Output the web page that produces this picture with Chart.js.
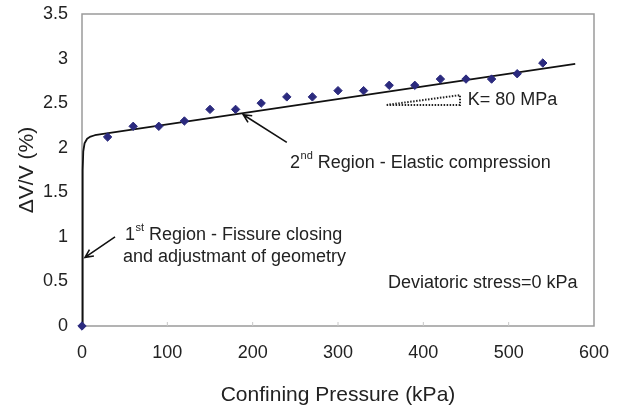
<!DOCTYPE html>
<html>
<head>
<meta charset="utf-8">
<script src="https://cdn.jsdelivr.net/npm/chart.js@4"></script>
<style>
  html, body { margin: 0; padding: 0; background: #fff; }
  #wrap { width: 618px; height: 412px; }
</style>
</head>
<body>
<div id="wrap"><canvas id="chart"></canvas></div>
<script>
// measured points (confining pressure, kPa / volumetric strain, %)
const pressure = [0, 30, 60, 90, 120, 150, 180, 210, 240, 270, 300, 330, 360, 390, 420, 450, 480, 510, 540];
const volStrain = [0, 2.12, 2.24, 2.24, 2.30, 2.43, 2.43, 2.50, 2.57, 2.57, 2.64, 2.64, 2.70, 2.70, 2.77, 2.77, 2.77, 2.83, 2.95];

// fitted curve
const fitX = [0, 0.8, 1.5, 3, 6, 10, 15, 578];
const fitY = [0, 1.75, 1.96, 2.05, 2.1, 2.125, 2.14, 2.94];

// slope triangle for K
const kX = [357, 443, 443, 357];
const kY = [2.48, 2.48, 2.59, 2.48];

const xTicks = [0, 100, 200, 300, 400, 500, 600];
const yTicks = [0, 0.5, 1, 1.5, 2, 2.5, 3, 3.5];

const FONT = "'Liberation Sans', Arial, sans-serif";
const TEXT = "#222";

const toXY = (xs, ys) => xs.map((x, i) => ({ x: x, y: ys[i] }));

const framePlugin = {
  id: "frame",
  beforeDatasetsDraw(chart) {
    const { ctx, chartArea: a } = chart;
    ctx.save();
    ctx.strokeStyle = "#9a9a9a";
    ctx.lineWidth = 1.5;
    ctx.strokeRect(a.left, a.top, a.right - a.left, a.bottom - a.top);
    // small inward tick marks on the x axis
    ctx.lineWidth = 1;
    ctx.strokeStyle = "#c8c8c8";
    const xs = chart.scales.x;
    xTicks.slice(1, -1).forEach((t) => {
      const px = xs.getPixelForValue(t);
      ctx.beginPath();
      ctx.moveTo(px, a.bottom);
      ctx.lineTo(px, a.bottom - 4);
      ctx.stroke();
    });
    ctx.restore();
  },
};

function arrow(ctx, x1, y1, x2, y2) {
  const ang = Math.atan2(y2 - y1, x2 - x1);
  const h = 9;
  ctx.beginPath();
  ctx.moveTo(x1, y1);
  ctx.lineTo(x2, y2);
  ctx.moveTo(x2 - h * Math.cos(ang - 0.45), y2 - h * Math.sin(ang - 0.45));
  ctx.lineTo(x2, y2);
  ctx.lineTo(x2 - h * Math.cos(ang + 0.45), y2 - h * Math.sin(ang + 0.45));
  ctx.stroke();
}

function supText(ctx, x, y, base, sup, rest) {
  ctx.font = "18px " + FONT;
  ctx.fillText(base, x, y);
  let w = ctx.measureText(base).width;
  ctx.font = "11px " + FONT;
  ctx.fillText(sup, x + w + 0.5, y - 7);
  w += ctx.measureText(sup).width + 0.5;
  ctx.font = "18px " + FONT;
  ctx.fillText(rest, x + w, y);
}

const notesPlugin = {
  id: "notes",
  afterDatasetsDraw(chart) {
    const { ctx } = chart;
    const xs = chart.scales.x;
    const ys = chart.scales.y;
    const px = (v) => xs.getPixelForValue(v);
    const py = (v) => ys.getPixelForValue(v);
    ctx.save();
    ctx.strokeStyle = "#111";
    ctx.lineWidth = 1.6;
    arrow(ctx, px(38.7), py(1.0), px(3.5), py(0.77));
    arrow(ctx, px(240), py(2.06), px(189), py(2.37));

    ctx.fillStyle = TEXT;
    ctx.textBaseline = "middle";
    ctx.textAlign = "left";
    supText(ctx, px(50.4), py(1.02), "1", "st", " Region - Fissure closing");
    ctx.font = "18px " + FONT;
    ctx.fillText("and adjustmant of geometry", px(48), py(0.774));
    supText(ctx, px(243.8), py(1.83), "2", "nd", " Region - Elastic compression");
    ctx.font = "18px " + FONT;
    ctx.fillText("K= 80 MPa", px(452), py(2.535));
    ctx.fillText("Deviatoric stress=0 kPa", px(358.6), py(0.48));
    ctx.restore();
  },
};

const ctx = document.getElementById("chart").getContext("2d");
new Chart(ctx, {
  type: "scatter",
  data: {
    datasets: [
      {
        label: "Fit",
        data: toXY(fitX, fitY),
        showLine: true,
        borderColor: "#111",
        borderWidth: 1.8,
        pointRadius: 0,
        tension: 0,
        borderJoinStyle: "round",
        fill: false,
        clip: false,
        order: 2,
      },
      {
        label: "K slope",
        data: toXY(kX, kY),
        showLine: true,
        borderColor: "#222",
        borderWidth: 2,
        borderDash: [1.5, 1.5],
        pointRadius: 0,
        fill: false,
        order: 3,
      },
      {
        label: "Measured",
        data: toXY(pressure, volStrain),
        showLine: false,
        pointStyle: "rectRot",
        pointRadius: 4.2,
        pointBackgroundColor: "#2b2a7e",
        pointBorderColor: "#2b2a7e",
        pointBorderWidth: 1,
        clip: false,
        order: 1,
      },
    ],
  },
  options: {
    responsive: true,
    maintainAspectRatio: false,
    animation: false,
    layout: { padding: { left: 0, top: 14, right: 24, bottom: 0 } },
    plugins: {
      legend: { display: false },
      tooltip: { enabled: false },
    },
    scales: {
      x: {
        type: "linear",
        min: 0,
        max: 600,
        afterBuildTicks: (s) => { s.ticks = xTicks.map((v) => ({ value: v })); },
        afterFit: (s) => { s.height = 86; s.paddingLeft = 0; s.paddingRight = 0; },
        grid: { display: false, drawTicks: false },
        border: { display: false },
        ticks: {
          padding: 16,
          color: TEXT,
          font: { family: FONT, size: 18 },
          maxRotation: 0,
          callback: (v) => String(v),
        },
        title: {
          display: true,
          text: "Confining Pressure (kPa)",
          color: TEXT,
          font: { family: FONT, size: 21 },
          padding: { top: 0, bottom: 4 },
        },
      },
      y: {
        type: "linear",
        min: 0,
        max: 3.5,
        afterBuildTicks: (s) => { s.ticks = yTicks.map((v) => ({ value: v })); },
        afterFit: (s) => { s.width = 82; s.paddingTop = 0; s.paddingBottom = 0; },
        grid: { display: false, drawTicks: false },
        border: { display: false },
        ticks: {
          padding: 14,
          color: TEXT,
          font: { family: FONT, size: 18 },
          callback: (v) => String(Number(v.toFixed(1))),
        },
        title: {
          display: true,
          text: "ΔV/V (%)",
          color: TEXT,
          font: { family: FONT, size: 21 },
          padding: { top: 15, bottom: 0 },
        },
      },
    },
  },
  plugins: [framePlugin, notesPlugin],
});
</script>
</body>
</html>
